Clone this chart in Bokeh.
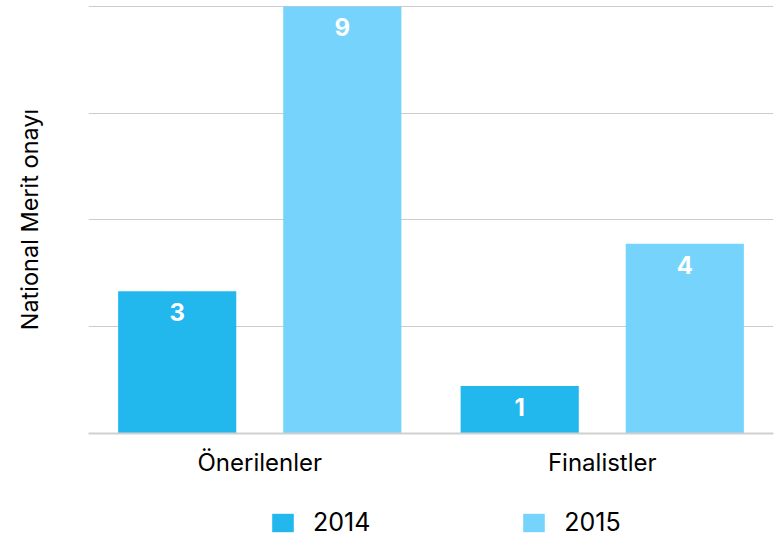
from bokeh.plotting import figure
from bokeh.layouts import column
from bokeh.models import (ColumnDataSource, FactorRange, Range1d, FixedTicker,
                          Legend, LegendItem)
from bokeh.transform import dodge
from bokeh.core.properties import value
from bokeh.embed import file_html
from bokeh.resources import INLINE

categories = ["Önerilenler", "Finalistler"]
years = ["2014", "2015"]
values_2014 = [3, 1]
values_2015 = [9, 4]
y_ticks = [0, 2.25, 4.5, 6.75, 9]

colors = {"2014": "#22b8ee", "2015": "#76d4fc"}
FONT = "Inter"

src = ColumnDataSource(dict(
    cat=categories,
    v2014=values_2014,
    v2015=values_2015,
    t2014=[str(v) for v in values_2014],
    t2015=[str(v) for v in values_2015],
))

fig = figure(width=781, height=487, output_backend="svg", toolbar_location=None,
             x_range=FactorRange(*categories, range_padding=0),
             y_range=Range1d(0, 9.021),
             min_border_left=88, min_border_right=8, min_border_top=5,
             min_border_bottom=54)
fig.outline_line_color = None
fig.background_fill_color = "white"
fig.border_fill_color = "white"

fig.vbar(x=dodge("cat", -0.241, range=fig.x_range), top="v2014", width=0.345,
         source=src, color=colors["2014"], line_color=None)
fig.vbar(x=dodge("cat", 0.241, range=fig.x_range), top="v2015", width=0.345,
         source=src, color=colors["2015"], line_color=None)

for col, off in (("2014", -0.241), ("2015", 0.241)):
    fig.text(x=dodge("cat", off, range=fig.x_range), y="v" + col, text="t" + col,
             source=src, text_color="white", text_font=value(FONT),
             text_font_style="bold", text_font_size="24px",
             text_align="center", text_baseline="middle", y_offset=21)

# axes
fig.xgrid.grid_line_color = None
fig.ygrid.ticker = FixedTicker(ticks=y_ticks)
fig.ygrid.grid_line_color = "#cccccc"
fig.ygrid.grid_line_width = 1

fig.yaxis.ticker = FixedTicker(ticks=y_ticks)
fig.yaxis.bounds = (0.36, 9.0)
fig.yaxis.major_label_text_font_size = "0px"
fig.yaxis.major_tick_line_color = None
fig.yaxis.minor_tick_line_color = None
fig.yaxis.axis_line_color = None
fig.yaxis.axis_label = "National Merit onayı"
fig.yaxis.axis_label_text_font = FONT
fig.yaxis.axis_label_text_font_style = "normal"
fig.yaxis.axis_label_text_font_size = "23.5px"
fig.yaxis.axis_label_text_color = "black"
fig.yaxis.axis_label_standoff = 39

fig.xaxis.axis_line_color = "#d0d0d0"
fig.xaxis.axis_line_width = 2
fig.xaxis.major_tick_line_color = None
fig.xaxis.minor_tick_line_color = None
fig.xaxis.major_label_text_font = FONT
fig.xaxis.major_label_text_font_size = "24px"
fig.xaxis.major_label_text_color = "black"
fig.xaxis.major_label_standoff = 8

# legend strip below the chart (its bars lie outside its visible range)
leg = figure(width=781, height=52, output_backend="svg", toolbar_location=None,
             x_range=FactorRange(*categories, range_padding=0),
             y_range=Range1d(10, 11),
             x_axis_type=None, y_axis_type=None,
             min_border_left=88, min_border_right=8, min_border_top=0,
             min_border_bottom=0)
leg.outline_line_color = None
leg.xgrid.visible = False
leg.ygrid.visible = False
lr1 = leg.vbar(x=dodge("cat", -0.241, range=leg.x_range), top="v2014",
               width=0.345, source=src, color=colors["2014"], line_color=None)
lr2 = leg.vbar(x=dodge("cat", 0.241, range=leg.x_range), top="v2015",
               width=0.345, source=src, color=colors["2015"], line_color=None)

legend = Legend(items=[LegendItem(label=years[0], renderers=[lr1]),
                       LegendItem(label=years[1], renderers=[lr2])],
                orientation="horizontal", location=(181, 2),
                glyph_width=27, glyph_height=23, label_standoff=17,
                spacing=150, padding=0, margin=0,
                border_line_color=None, background_fill_alpha=0,
                label_text_font=FONT, label_text_font_size="25px",
                label_text_color="black", label_height=23)
leg.add_layout(legend, "center")

p = column(fig, leg, spacing=0)

open("out.html", "w").write(file_html(p, INLINE))
